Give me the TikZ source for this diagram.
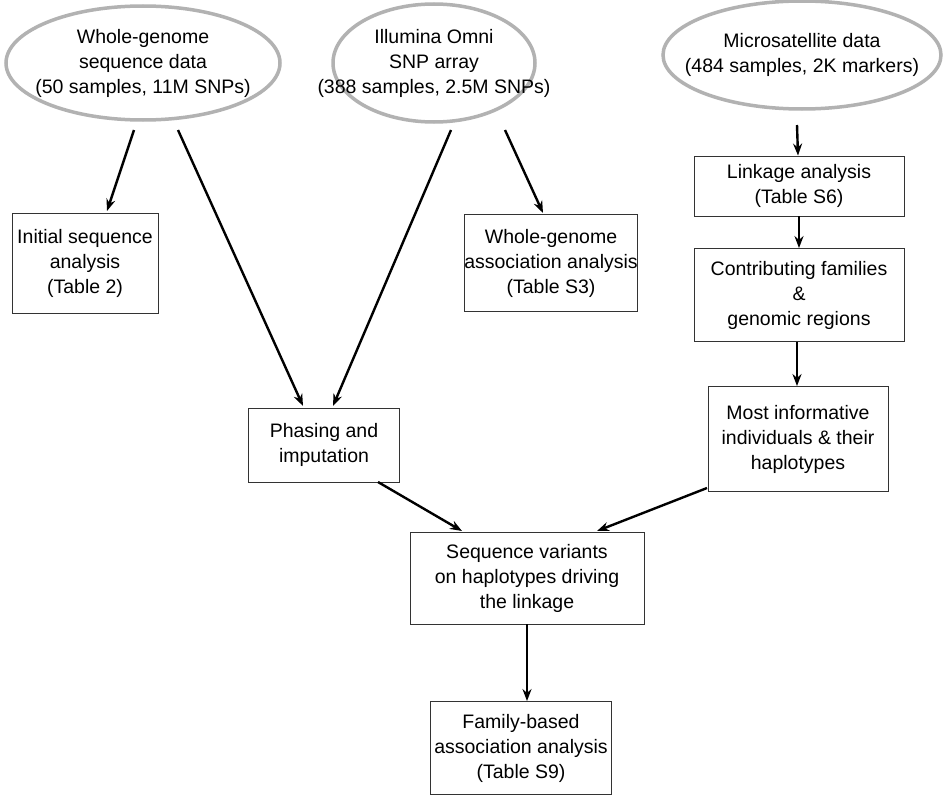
\documentclass[tikz,border=0pt]{standalone}
\usepackage{fontspec}
\setmainfont{Liberation Sans}
\usetikzlibrary{positioning,arrows.meta}
\begin{document}
\begin{tikzpicture}[x=1pt,y=-1pt,
  src/.style={draw=gray!60,line width=3.5pt,fill=white},
  stage/.style={draw=black!80,line width=0.9pt,align=center,inner sep=0pt},
  flow/.style={-{Stealth[length=12pt,width=9pt]},line width=2.4pt}]
\path[use as bounding box,fill=white] (0,0) rectangle (947,800);
\begin{scope}[every node/.style={font=\fontsize{19.5}{25}\selectfont}]
% sources
\draw[src] (143,63) ellipse [x radius=137,y radius=57];
\node[align=center] (wgs) at (143,63) {Whole-genome\\sequence data\\(50 samples, 11M SNPs)};
\draw[src] (434,63) ellipse [x radius=101,y radius=59];
\node[align=center] (omni) at (434,63) {Illumina Omni\\SNP array\\(388 samples, 2.5M SNPs)};
\draw[src] (802,55) ellipse [x radius=139,y radius=54];
\node[align=center] (micro) at (802,55) {Microsatellite data\\(484 samples, 2K markers)};
% stages
\node[stage,minimum width=146pt,minimum height=100pt] (init) at (85,263) {Initial sequence\\analysis\\(Table 2)};
\node[stage,minimum width=158pt,minimum height=97pt] (wga) at (551,263) {Whole-genome\\association analysis\\(Table S3)};
\node[stage,minimum width=210pt,minimum height=60pt] (link) at (799,186) {Linkage analysis\\(Table S6)};
\node[stage,minimum width=210pt,minimum height=93pt] (contrib) at (799,295) {Contributing families\\\&\\genomic regions};
\node[stage,minimum width=180pt,minimum height=105pt] (inform) at (798,439) {Most informative\\individuals \& their\\haplotypes};
\node[stage,minimum width=151pt,minimum height=74pt] (phase) at (324,445) {Phasing and\\imputation};
\node[stage,minimum width=234pt,minimum height=92pt] (seqvar) at (527,578) {Sequence variants\\on haplotypes driving\\the linkage};
\node[stage,minimum width=181pt,minimum height=93pt] (fam) at (521,748) {Family-based\\association analysis\\(Table S9)};
\end{scope}
% connectors
\coordinate (w1) at (134,130); \coordinate (w2) at (178,130);
\coordinate (o1) at (451,130); \coordinate (o2) at (505,130);
\coordinate (m1) at (797,125);
\draw[flow] (w1) -- (107,211);
\draw[flow] (w2) -- (303,406);
\draw[flow] (o1) -- (333,406);
\draw[flow] (o2) -- (543,213);
\draw[flow] (m1) -- (link);
\draw[flow] (link) -- (contrib);
\draw[flow] (contrib.south -| 797,0) -- (inform.north -| 797,0);
\draw[flow] (378,482) -- (462,531);
\draw[flow] (707,488) -- (597,531);
\draw[flow] (seqvar.south) -- (fam.north -| seqvar.south);
\end{tikzpicture}
\end{document}
